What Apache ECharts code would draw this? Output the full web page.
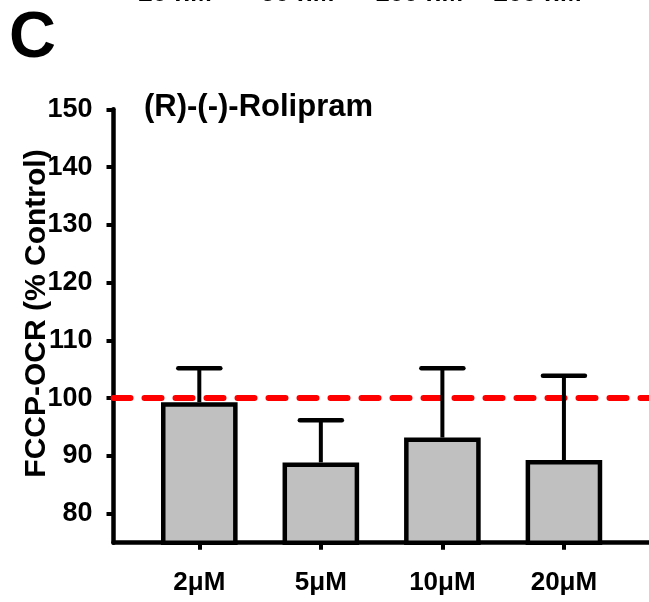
<!DOCTYPE html>
<html><head><meta charset="utf-8">
<script src="https://cdn.jsdelivr.net/npm/echarts@6/dist/echarts.min.js"></script>
<style>html,body{margin:0;padding:0;background:#fff}#c{width:649px;height:602px}</style>
</head><body><div id="c"></div>
<script>
const categories = ['2μM', '5μM', '10μM', '20μM'];
const meanValues = [99.3, 88.9, 93.2, 89.3];
const errValues = [5.9, 7.3, 12.0, 14.6];
const yTicks = [80, 90, 100, 110, 120, 130, 140, 150];
const refLine = [100];
const topLabels = ['20 nM', '50 nM', '100 nM', '200 nM'];
const topLabelX = [175, 297.5, 419, 537.5];

const xPos = categories.map((c, i) => i + 1);
const barData = xPos.map((x, i) => [x, meanValues[i]]);
const errData = xPos.map((x, i) => [x, meanValues[i], errValues[i]]);

const SANS = "'Liberation Sans',Arial,sans-serif";

const chart = echarts.init(document.getElementById('c'), null, {renderer: 'canvas'});
chart.setOption({
  animation: false,
  backgroundColor: '#fff',
  grid: {left: 113.5, right: 0, top: 109.3, bottom: 59.3, containLabel: false, outerBoundsMode: 'none'},
  xAxis: {
    type: 'value', min: 0.294, max: 4.70,
    axisLine: {show: true, onZero: false, lineStyle: {color: '#000', width: 4.5}},
    axisTick: {show: true, length: 7, inside: false, customValues: xPos, lineStyle: {color: '#000', width: 4}},
    axisLabel: {show: true, customValues: xPos, margin: 27, color: '#000', fontWeight: 'bold', fontSize: 26, fontFamily: SANS,
      formatter: v => categories[Math.round(v) - 1] || ''},
    splitLine: {show: false}
  },
  yAxis: {
    type: 'value', min: 75, max: 150,
    axisLine: {show: true, lineStyle: {color: '#000', width: 4.5}},
    axisTick: {show: true, length: 7, customValues: yTicks, lineStyle: {color: '#000', width: 4}},
    axisLabel: {show: true, customValues: yTicks, margin: 21, color: '#000', fontWeight: 'bold', fontSize: 27, fontFamily: SANS},
    splitLine: {show: false}
  },
  graphic: [
    {type: 'text', left: 9, top: 39.5 - 65 / 2, style: {text: 'C', font: 'bold 65px ' + SANS, fill: '#000'}},
    {type: 'text', x: 144, y: 107, style: {text: '(R)-(-)-Rolipram', font: 'bold 31px ' + SANS, fill: '#000', textAlign: 'left', textVerticalAlign: 'middle'}},
    {type: 'text', x: 36.5, y: 313.5, rotation: Math.PI / 2, style: {text: 'FCCP-OCR (% Control)', font: 'bold 30px ' + SANS, fill: '#000', textAlign: 'center', textVerticalAlign: 'middle'}}
  ].concat(topLabels.map((t, i) => ({type: 'text', x: topLabelX[i], y: 6.5, style: {text: t, font: 'bold 26px ' + SANS, fill: '#000', textAlign: 'center', textVerticalAlign: 'bottom'}}))),
  series: [
    {
      type: 'bar', data: barData, barWidth: 76.6, z: 2,
      itemStyle: {color: '#c0c0c0', borderColor: '#000', borderWidth: 4.5},
      markLine: {
        silent: true, symbol: ['none', 'none'], label: {show: false}, z: 3,
        lineStyle: {color: '#ff0000', width: 6, type: [17, 14], cap: 'round'},
        data: refLine.map(v => ({yAxis: v}))
      }
    },
    {
      type: 'custom', data: errData, z: 4,
      renderItem: function (params, api) {
        const x = api.value(0), y = api.value(1), e = api.value(2);
        const p0 = api.coord([x, y]);
        const p1 = api.coord([x, y + e]);
        return {type: 'group', children: [
          {type: 'line', shape: {x1: p0[0], y1: p0[1], x2: p1[0], y2: p1[1]}, style: {stroke: '#000', lineWidth: 4}},
          {type: 'line', shape: {x1: p1[0] - 21, y1: p1[1], x2: p1[0] + 21, y2: p1[1]}, style: {stroke: '#000', lineWidth: 4.5, lineCap: 'round'}}
        ]};
      }
    }
  ]
});
</script></body></html>
